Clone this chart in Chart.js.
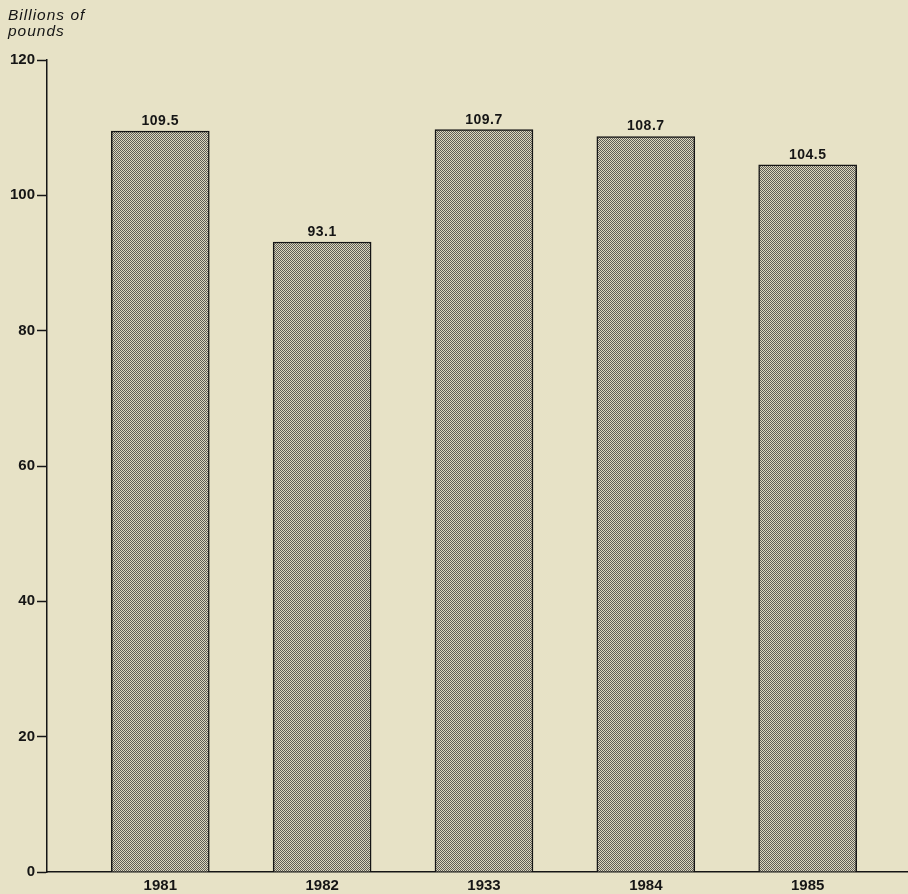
<!DOCTYPE html>
<html>
<head>
<meta charset="utf-8">
<script src="https://cdn.jsdelivr.net/npm/chart.js@4/dist/chart.umd.min.js"></script>
<style>
  html, body { margin: 0; padding: 0; background: #e7e2c6; }
  #wrap { width: 908px; height: 894px; position: relative; }
</style>
</head>
<body>
<div id="wrap"><canvas id="chart"></canvas></div>
<script>
const years = ['1981', '1982', '1933', '1984', '1985'];
const values = [109.5, 93.1, 109.7, 108.7, 104.5];
const valueLabels = ['109.5', '93.1', '109.7', '108.7', '104.5'];
const yTicks = [0, 20, 40, 60, 80, 100, 120];
const unitLines = ['Billions of', 'pounds'];

const FONT = '"Liberation Sans", Arial, Helvetica, sans-serif';
const INK = '#151515';

// fine checker stipple used to fill the bars
function makeStipple() {
    const tile = document.createElement('canvas');
    tile.width = 2;
    tile.height = 2;
    const c = tile.getContext('2d');
    c.fillStyle = '#dcd7be';
    c.fillRect(0, 0, 2, 2);
    c.fillStyle = '#5e5d56';
    c.fillRect(0, 0, 1, 1);
    c.fillRect(1, 1, 1, 1);
    return document.getElementById('chart').getContext('2d').createPattern(tile, 'repeat');
}

const valueLabelPlugin = {
    id: 'valueLabels',
    afterDatasetsDraw(chart) {
        const ctx = chart.ctx;
        const meta = chart.getDatasetMeta(0);
        ctx.save();
        ctx.font = `bold 14px ${FONT}`;
        ctx.letterSpacing = '0.5px';
        ctx.fillStyle = INK;
        ctx.textAlign = 'center';
        ctx.textBaseline = 'bottom';
        meta.data.forEach((bar, i) => {
            ctx.fillText(valueLabels[i], bar.x, bar.y - 3);
        });
        ctx.restore();
    },
};

const unitPlugin = {
    id: 'unitTitle',
    afterDraw(chart) {
        const ctx = chart.ctx;
        ctx.save();
        ctx.font = `italic 15.5px ${FONT}`;
        ctx.letterSpacing = '1px';
        ctx.fillStyle = INK;
        ctx.textAlign = 'left';
        ctx.textBaseline = 'alphabetic';
        unitLines.forEach((line, i) => ctx.fillText(line, 8, 20 + i * 16));
        ctx.restore();
    },
};

new Chart(document.getElementById('chart'), {
    type: 'bar',
    data: {
        datasets: [{
            data: values.map((v, i) => ({ x: i, y: v })),
            backgroundColor: makeStipple(),
            borderColor: INK,
            borderWidth: 1.5,
            borderSkipped: 'bottom',
            barThickness: 98,
        }],
    },
    options: {
        responsive: true,
        maintainAspectRatio: false,
        animation: false,
        layout: { padding: { top: 60, right: 0, left: 0, bottom: 0 } },
        plugins: {
            legend: { display: false },
            tooltip: { enabled: false },
        },
        scales: {
            x: {
                type: 'linear',
                offset: false,
                min: -0.7,
                max: 4.62,
                afterFit: (scale) => { scale.height = 22; },
                afterBuildTicks: (scale) => {
                    scale.ticks = years.map((_, i) => ({ value: i }));
                },
                ticks: {
                    autoSkip: false,
                    maxRotation: 0,
                    padding: 5,
                    color: INK,
                    font: { family: FONT, size: 15, weight: 'bold' },
                    callback: (v) => years[v] ?? '',
                },
                grid: { display: false, drawTicks: false },
                border: { display: true, color: INK, width: 1.5 },
            },
            y: {
                min: 0,
                max: 120,
                afterFit: (scale) => { scale.width = 47; },
                afterBuildTicks: (scale) => {
                    scale.ticks = yTicks.map((v) => ({ value: v }));
                },
                ticks: {
                    padding: 2,
                    color: INK,
                    font: { family: FONT, size: 15, weight: 'bold' },
                },
                grid: {
                    display: true,
                    drawOnChartArea: false,
                    drawTicks: true,
                    tickLength: 10,
                    tickWidth: 1.5,
                    tickColor: INK,
                },
                border: { display: true, color: INK, width: 1.5 },
            },
        },
    },
    plugins: [valueLabelPlugin, unitPlugin],
});
</script>
</body>
</html>
